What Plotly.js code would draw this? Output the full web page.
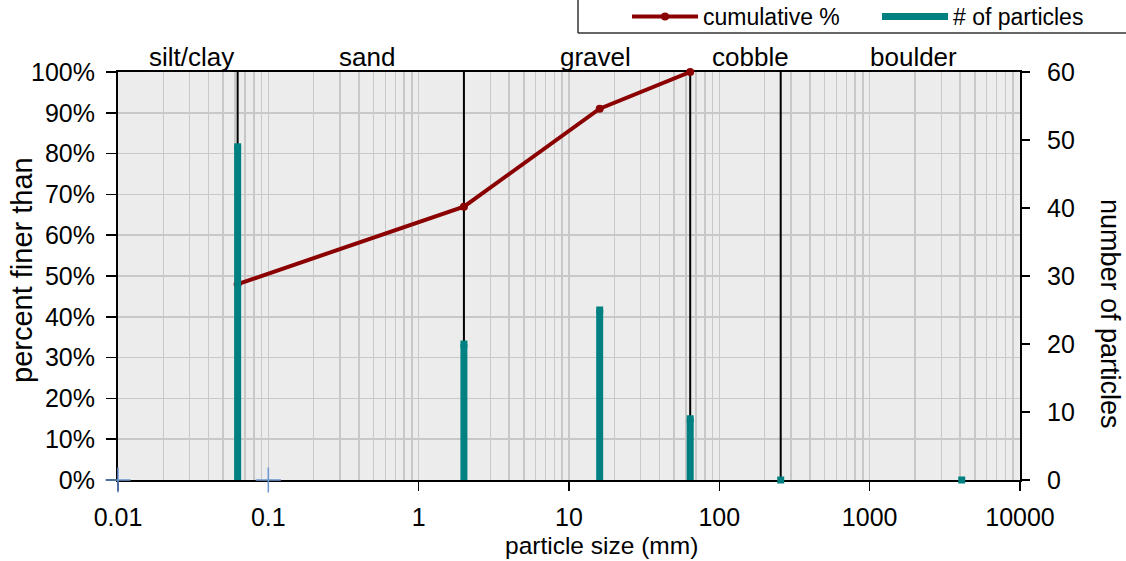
<!DOCTYPE html>
<html>
<head>
<meta charset="utf-8">
<script src="https://cdn.plot.ly/plotly-3.0.1.min.js"></script>
<style>html,body{margin:0;padding:0;background:#fff;}#chart{width:1126px;height:561px;}</style>
</head>
<body>
<div id="chart"></div>
<script>
// particle size (mm) of each size class boundary
var sizes = [0.0625, 2, 16, 64, 256, 4096];
// cumulative percent finer than
var cumSizes = [0.0625, 2, 16, 64];
var cumPercent = [0.48, 0.67, 0.91, 1.00];
// number of particles per size
var particleCounts = [49, 20, 25, 9, 0, 0];
// class boundaries (vertical lines)
var boundaries = [0.0625, 2, 64, 256];
// extra reference points at zero
var refSizes = [0.01, 0.1];
var refValues = [0, 0];
// size class labels
var classNames = ["silt/clay", "sand", "gravel", "cobble", "boulder"];
var xTickVals = [0.01, 0.1, 1, 10, 100, 1000, 10000];
var xTickText = ["0.01", "0.1", "1", "10", "100", "1000", "10000"];

var FONT = "Liberation Sans, Arial, sans-serif";

// build vertical segment arrays
var bx = [], by = [];
boundaries.forEach(function (b) { bx.push(b, b, null); by.push(0, 1, null); });
var px = [], py = [];
sizes.forEach(function (s, i) { px.push(s, s, null); py.push(0, particleCounts[i], null); });

var traces = [
  { x: bx, y: by, type: 'scatter', mode: 'lines', line: { color: '#000000', width: 2 },
    showlegend: false, hoverinfo: 'skip', xaxis: 'x', yaxis: 'y' },
  { x: refSizes, y: refValues, type: 'scatter', mode: 'markers',
    marker: { symbol: 'cross-thin', size: 18, line: { color: '#6a95d0', width: 1.5 } },
    showlegend: false, cliponaxis: false, xaxis: 'x', yaxis: 'y' },
  { x: cumSizes, y: cumPercent, type: 'scatter', mode: 'lines+markers', name: 'cumulative %',
    line: { color: '#8b0000', width: 4 }, marker: { color: '#8b0000', size: 8 },
    cliponaxis: false, xaxis: 'x', yaxis: 'y' },
  { x: px, y: py, type: 'scatter', mode: 'lines', name: '# of particles',
    line: { color: '#008080', width: 7 }, showlegend: true,
    cliponaxis: false, xaxis: 'x', yaxis: 'y2' },
  { x: sizes, y: particleCounts, type: 'scatter', mode: 'markers',
    marker: { symbol: 'square', color: '#008080', size: 7 }, showlegend: false,
    cliponaxis: false, xaxis: 'x', yaxis: 'y2' }
];

var classX = [0.031, 0.45, 15, 160, 1950];
var annotations = classNames.map(function (n, i) {
  return { text: n, x: Math.log10(classX[i]), xref: 'x', y: 1.0, yref: 'paper',
    yanchor: 'bottom', yshift: -2, showarrow: false, font: { family: FONT, size: 26, color: '#000' } };
});
annotations.push({ text: 'particle size (mm)', x: (601 - 118) / 902, xref: 'paper',
  y: (480 - 545) / 408, yref: 'paper', xanchor: 'center', yanchor: 'middle', showarrow: false,
  borderpad: 0, font: { family: FONT, size: 24.5, color: '#000' } });
annotations.push({ text: 'percent finer than', x: (22 - 118) / 902, xref: 'paper',
  y: (480 - 270) / 408, yref: 'paper', xanchor: 'center', yanchor: 'middle', textangle: -90,
  showarrow: false, font: { family: FONT, size: 29, color: '#000' } });
annotations.push({ text: 'number of particles', x: (1110 - 118) / 902, xref: 'paper',
  y: (480 - 314) / 408, yref: 'paper', xanchor: 'center', yanchor: 'middle', textangle: 90,
  showarrow: false, font: { family: FONT, size: 27, color: '#000' } });

var layout = {
  width: 1126, height: 561,
  margin: { l: 118, r: 106, t: 72, b: 81, autoexpand: false },
  paper_bgcolor: '#ffffff', plot_bgcolor: '#ececec',
  font: { family: FONT, size: 25, color: '#000' },
  showlegend: true,
  legend: { orientation: 'h', x: (627 - 118) / 902, xanchor: 'left', y: (480 + 5) / 408,
    yref: 'paper', yanchor: 'top', font: { family: FONT, size: 23, color: '#000' },
    bgcolor: 'rgba(0,0,0,0)', itemwidth: 66, entrywidth: 169, tracegroupgap: 0 },
  xaxis: { type: 'log', range: [-2, 4], tickvals: xTickVals, ticktext: xTickText,
    ticks: 'outside', ticklen: 9, tickcolor: '#000', tickwidth: 1.5, ticklabelstandoff: 5,
    showline: true, linecolor: '#000', linewidth: 2, mirror: true, layer: 'below traces',
    showgrid: true, gridcolor: '#c8c8c8', gridwidth: 1.5,
    minor: { showgrid: true, gridcolor: '#c8c8c8', gridwidth: 1.5, dtick: 'D1' },
    zeroline: false, tickfont: { family: FONT, size: 25 }, automargin: false },
  yaxis: { range: [0, 1], dtick: 0.1, tickformat: '.0%', ticks: 'outside', ticklen: 10,
    tickcolor: '#000', tickwidth: 1.5, ticklabelstandoff: 6, showline: true, linecolor: '#000',
    linewidth: 2, mirror: true, layer: 'below traces',
    showgrid: true, gridcolor: '#c8c8c8', gridwidth: 1.5, zeroline: false,
    tickfont: { family: FONT, size: 25 }, automargin: false },
  yaxis2: { range: [0, 60], dtick: 10, overlaying: 'y', side: 'right', ticks: 'outside',
    ticklen: 8, tickcolor: '#000', tickwidth: 1.5, ticklabelstandoff: 12, showline: true,
    linecolor: '#000', linewidth: 2, showgrid: false, zeroline: false, layer: 'below traces',
    tickfont: { family: FONT, size: 25 }, automargin: false },
  annotations: annotations,
  shapes: [
    { type: 'line', xref: 'paper', yref: 'paper', x0: (578 - 118) / 902, x1: (578 - 118) / 902,
      y0: (480 - 33) / 408, y1: (480 + 2) / 408, line: { color: '#333', width: 1.5 } },
    { type: 'line', xref: 'paper', yref: 'paper', x0: (578 - 118) / 902, x1: (1130 - 118) / 902,
      y0: (480 - 33) / 408, y1: (480 - 33) / 408, line: { color: '#333', width: 1.5 } }
  ]
};

Plotly.newPlot('chart', traces, layout, { displayModeBar: false, staticPlot: true });
</script>
</body>
</html>
